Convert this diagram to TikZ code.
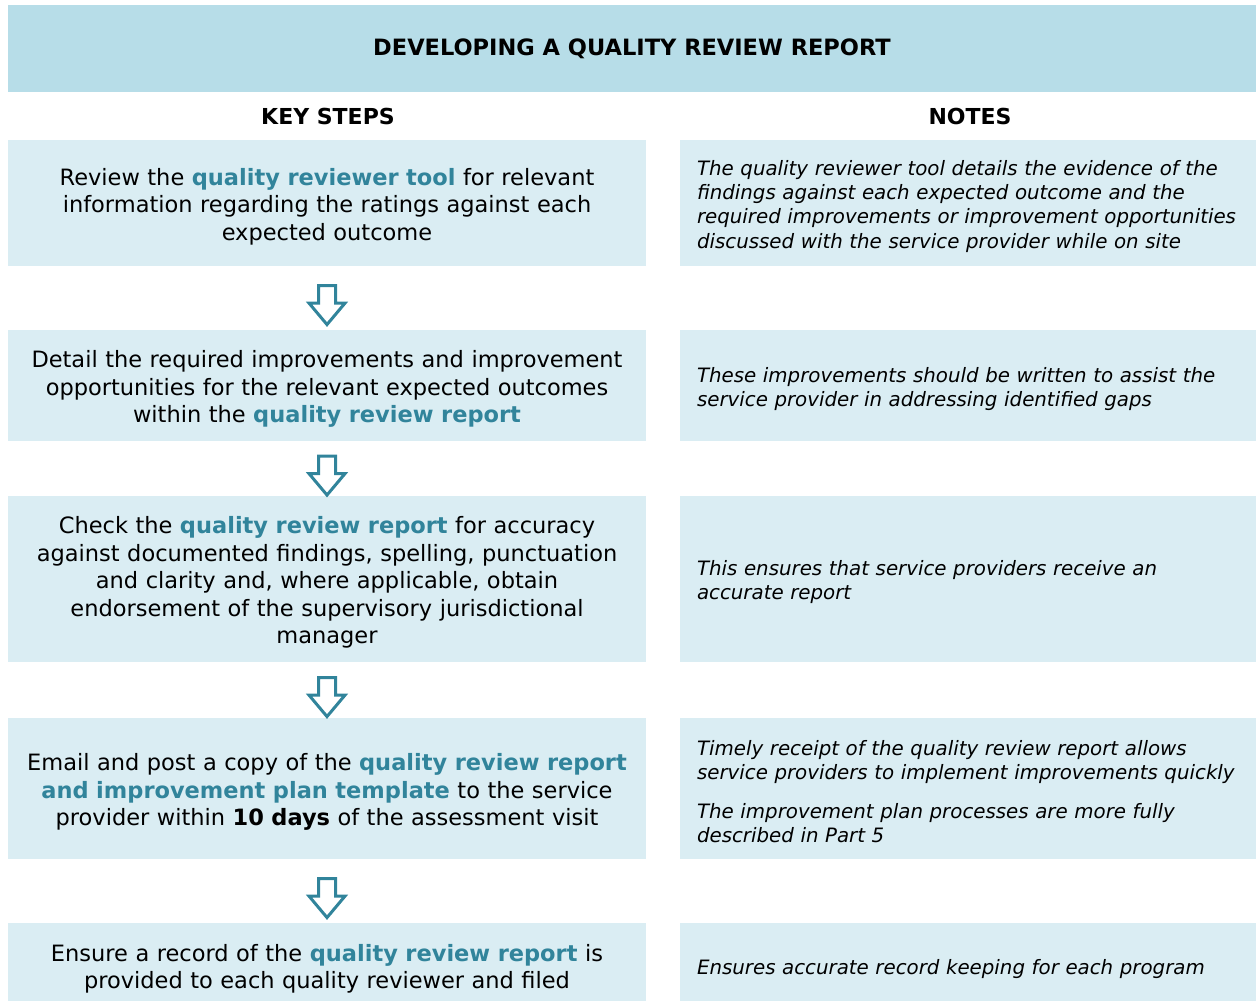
\documentclass[tikz,border=0pt]{standalone}
\usepackage{fontspec}
\setmainfont{DejaVu Sans}
\usetikzlibrary{shapes.arrows,calc}

\definecolor{bandblue}{HTML}{B7DDE8}
\definecolor{boxblue}{HTML}{DAEDF3}
\definecolor{tealtext}{HTML}{31849B}
\newcommand{\keyterm}[1]{\textcolor{tealtext}{\textbf{#1}}}
\newcommand{\toplift}[1]{\rule{0pt}{#1}}

\begin{document}
\begin{tikzpicture}[x=1pt,y=-1pt]
   \tikzstyle{band}=[fill=bandblue, minimum width=1248pt, minimum height=87pt, font=\fontsize{22.5}{26}\selectfont\bfseries]
   \tikzstyle{heading}=[font=\fontsize{22}{26}\selectfont\bfseries]
   \tikzstyle{keybox}=[fill=boxblue, minimum width=638pt, text width=620pt, inner sep=0pt, align=center, font=\fontsize{22.5}{27.5}\selectfont, execute at begin node=\toplift{24pt}]
   \tikzstyle{notebox}=[fill=boxblue, minimum width=576pt, text width=542pt, inner xsep=17pt, inner ysep=0pt, align=left, font=\fontsize{19.8}{24.3}\selectfont\itshape, execute at begin node=\toplift{21.5pt}]
   \tikzstyle{downarrow}=[single arrow, shape border rotate=270, draw=tealtext, fill=white, line width=3pt, inner sep=7pt, minimum height=39pt, single arrow head extend=9.5pt, single arrow tip angle=80]

\useasboundingbox (0,0) rectangle (1256,1001);

\node[band] (title) at (632,48.5) {DEVELOPING A QUALITY REVIEW REPORT};
\node[heading] (keyhead) at (328,116) {KEY STEPS};
\node[heading] (notehead) at (970,116) {NOTES};

% key steps
\node[keybox, minimum height=126pt] (s1) at (327,203) {Review the \keyterm{quality reviewer tool} for relevant\\ information regarding the ratings against each\\ expected outcome};
\node[keybox, minimum height=111pt] (s2) at (327,385.5) {Detail the required improvements and improvement\\ opportunities for the relevant expected outcomes\\ within the \keyterm{quality review report}};
\node[keybox, minimum height=166pt] (s3) at (327,579) {Check the \keyterm{quality review report} for accuracy\\ against documented findings, spelling, punctuation\\ and clarity and, where applicable, obtain\\ endorsement of the supervisory jurisdictional\\ manager};
\node[keybox, minimum height=141pt] (s4) at (327,788.5) {Email and post a copy of the \keyterm{quality review report}\\ \keyterm{and improvement plan template} to the service\\ provider within \textbf{10 days} of the assessment visit};
\node[keybox, minimum height=85pt] (s5) at (327,965.5) {Ensure a record of the \keyterm{quality review report} is\\ provided to each quality reviewer and filed};

% notes
\node[notebox, minimum height=126pt] (n1) at (968,203) {The quality reviewer tool details the evidence of the\\ findings against each expected outcome and the\\ required improvements or improvement opportunities\\ discussed with the service provider while on site};
\node[notebox, minimum height=111pt] (n2) at (968,385.5) {These improvements should be written to assist the\\ service provider in addressing identified gaps};
\node[notebox, minimum height=166pt] (n3) at (968,579) {This ensures that service providers receive an\\ accurate report};
\node[notebox, minimum height=141pt] (n4) at (968,788.5) {Timely receipt of the quality review report allows\\ service providers to implement improvements quickly\\[14pt] The improvement plan processes are more fully\\ described in Part 5};
\node[notebox, minimum height=85pt] (n5) at (968,965.5) {Ensures accurate record keeping for each program};

% arrows between steps
\foreach \a/\b in {s1/s2,s2/s3,s3/s4,s4/s5}
   \node[downarrow] (arr-\a) at ($(\a.south)!.5!(\b.north)+(0,2)$) {};

\end{tikzpicture}
\end{document}
